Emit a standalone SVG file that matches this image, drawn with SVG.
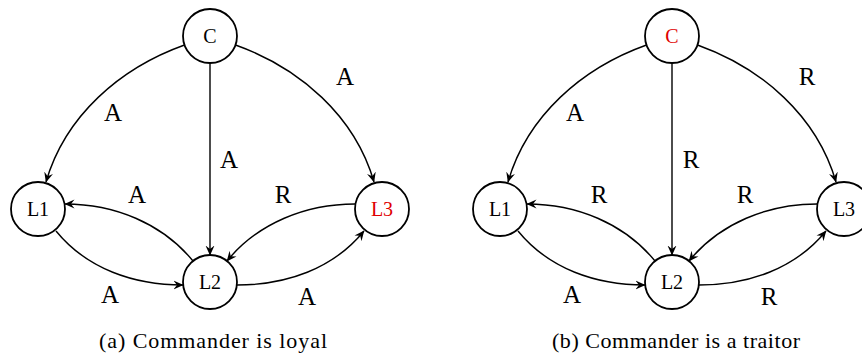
<svg xmlns="http://www.w3.org/2000/svg" width="862" height="354" viewBox="0 0 862 354">
<style>
  .node circle { fill: #fff; stroke: #000; stroke-width: 1.8; }
  .nl { font-family: "Liberation Serif", "DejaVu Serif", serif; font-size: 20px; text-anchor: middle; fill: #000; }
  .red { fill: #e00000; }
  .edges path { fill: none; stroke: #000; stroke-width: 1.4; marker-end: url(#arr); }
  .el { font-family: "Liberation Serif", "DejaVu Serif", serif; font-size: 25px; text-anchor: middle; fill: #000; }
  .cap { font-family: "Liberation Serif", "DejaVu Serif", serif; font-size: 22px; text-anchor: middle; fill: #000; }
</style>
<defs>
  <marker id="arr" viewBox="0 0 10 10" refX="9.5" refY="5" markerWidth="10" markerHeight="10" markerUnits="userSpaceOnUse" orient="auto">
    <path d="M0,0.5 L10,5 L0,9.5 L3.5,5 z" fill="#000"/>
  </marker>
</defs>

<g id="connectors-a" class="edges">
  <path d="M184.5,45 C120,68 65,116 46,182"/>
  <path d="M235.5,45 C300,68 355,116 374,182"/>
  <path d="M210,63 L210,255"/>
  <path d="M193,261 C162,223 114,204 65,204"/>
  <path d="M56,231 C87,269 134,285 183,285"/>
  <path d="M355,204 C306,204 258,223 227,261"/>
  <path d="M237,285 C286,285 333,269 364,231"/>
</g>
<g id="labels-a">
  <text class="el" x="113" y="121">A</text>
  <text class="el" x="345" y="85">A</text>
  <text class="el" x="229" y="168">A</text>
  <text class="el" x="137" y="203">A</text>
  <text class="el" x="110" y="303">A</text>
  <text class="el" x="283" y="203">R</text>
  <text class="el" x="307" y="305">A</text>
</g>
<g id="a-C" class="node"><circle cx="210" cy="36" r="27"/><text class="nl" x="210" y="43">C</text></g>
<g id="a-L1" class="node"><circle cx="38" cy="209" r="27"/><text class="nl" x="38" y="216">L1</text></g>
<g id="a-L2" class="node"><circle cx="210" cy="282" r="27"/><text class="nl" x="210" y="289">L2</text></g>
<g id="a-L3" class="node"><circle cx="382" cy="209" r="27"/><text class="nl red" x="382" y="216">L3</text></g>

<g id="connectors-b" class="edges" transform="translate(462,0)">
  <path d="M184.5,45 C120,68 65,116 46,182"/>
  <path d="M235.5,45 C300,68 355,116 374,182"/>
  <path d="M210,63 L210,255"/>
  <path d="M193,261 C162,223 114,204 65,204"/>
  <path d="M56,231 C87,269 134,285 183,285"/>
  <path d="M355,204 C306,204 258,223 227,261"/>
  <path d="M237,285 C286,285 333,269 364,231"/>
</g>
<g id="labels-b">
  <text class="el" x="575" y="121">A</text>
  <text class="el" x="807" y="85">R</text>
  <text class="el" x="691" y="168">R</text>
  <text class="el" x="599" y="203">R</text>
  <text class="el" x="572" y="303">A</text>
  <text class="el" x="745" y="203">R</text>
  <text class="el" x="769" y="305">R</text>
</g>
<g id="b-C" class="node"><circle cx="672" cy="36" r="27"/><text class="nl red" x="672" y="43">C</text></g>
<g id="b-L1" class="node"><circle cx="500" cy="209" r="27"/><text class="nl" x="500" y="216">L1</text></g>
<g id="b-L2" class="node"><circle cx="672" cy="282" r="27"/><text class="nl" x="672" y="289">L2</text></g>
<g id="b-L3" class="node"><circle cx="844" cy="209" r="27"/><text class="nl" x="844" y="216">L3</text></g>

<text class="cap" x="213" y="348" textLength="228" lengthAdjust="spacing">(a) Commander is loyal</text>
<text class="cap" x="676" y="348" textLength="248" lengthAdjust="spacing">(b) Commander is a traitor</text>
</svg>
